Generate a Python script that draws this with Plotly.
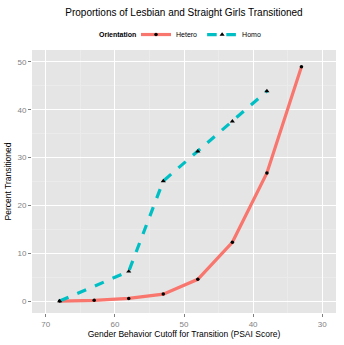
import plotly.graph_objects as go

hetero_x = [68, 63, 58, 53, 48, 43, 38, 33]
hetero_y = [0.0, 0.15, 0.55, 1.45, 4.55, 12.3, 26.8, 49.0]
homo_x = [68, 58, 53, 48, 43, 38]
homo_y = [0.0, 6.2, 25.1, 31.3, 37.6, 43.9]

x_ticks = [70, 60, 50, 40, 30]
y_ticks = [0, 10, 20, 30, 40, 50]

fig = go.Figure()
fig.add_trace(go.Scatter(
    x=hetero_x, y=hetero_y, mode="lines+markers", name="Hetero",
    line=dict(color="#F8766D", width=3.2),
    marker=dict(color="black", size=3.5, symbol="circle"),
))
fig.add_trace(go.Scatter(
    x=homo_x, y=homo_y, mode="lines+markers", name="Homo",
    line=dict(color="#00BFC4", width=3.2, dash="dash"),
    marker=dict(color="black", size=4.5, symbol="triangle-up"),
))

axis_common = dict(
    showgrid=True, gridcolor="white", gridwidth=1.2,
    zeroline=False, showline=False,
    ticks="outside", ticklen=3, tickcolor="#7f7f7f", tickwidth=1,
    tickfont=dict(size=8, color="#7f7f7f"),
    minor=dict(showgrid=True, gridcolor="#ebebeb", gridwidth=0.6),
)

plot_h = 345 - 50 - 23
plot_w = 344 - 23 - 8
legend_y = 1 + (50 - 34) / plot_h

fig.update_layout(
    width=344, height=345,
    margin=dict(l=23, r=8, t=50, b=23),
    paper_bgcolor="white", plot_bgcolor="#e5e5e5",
    font=dict(family="Liberation Sans, Arial, sans-serif", color="black"),
    title=dict(text="Proportions of Lesbian and Straight Girls Transitioned",
               x=0.5, xref="paper", y=1 - 12 / 345, yanchor="middle",
               font=dict(size=10, color="black")),
    legend=dict(orientation="h", x=(197 - 23) / plot_w, xanchor="center",
                y=legend_y, yanchor="middle",
                font=dict(size=7), itemwidth=30, bgcolor="rgba(0,0,0,0)",
                tracegroupgap=0),
    annotations=[dict(text="<b>Orientation</b>", xref="paper", yref="paper",
                      x=(132 - 23) / plot_w, y=legend_y, xanchor="right", yanchor="middle",
                      showarrow=False, font=dict(size=7, color="black"))],
    xaxis=dict(range=[72, 28], tickvals=x_ticks,
               title=dict(text="Gender Behavior Cutoff for Transition (PSAI Score)",
                          font=dict(size=8.5), standoff=2),
               **axis_common),
    yaxis=dict(range=[-2.5, 52.5], tickvals=y_ticks,
               title=dict(text="Percent Transitioned", font=dict(size=8.5), standoff=4),
               **axis_common),
)
fig.update_xaxes(minor=dict(tickvals=[65, 55, 45, 35], ticks=""))
fig.update_yaxes(minor=dict(tickvals=[5, 15, 25, 35, 45], ticks=""))

fig.write_html("out.html")
